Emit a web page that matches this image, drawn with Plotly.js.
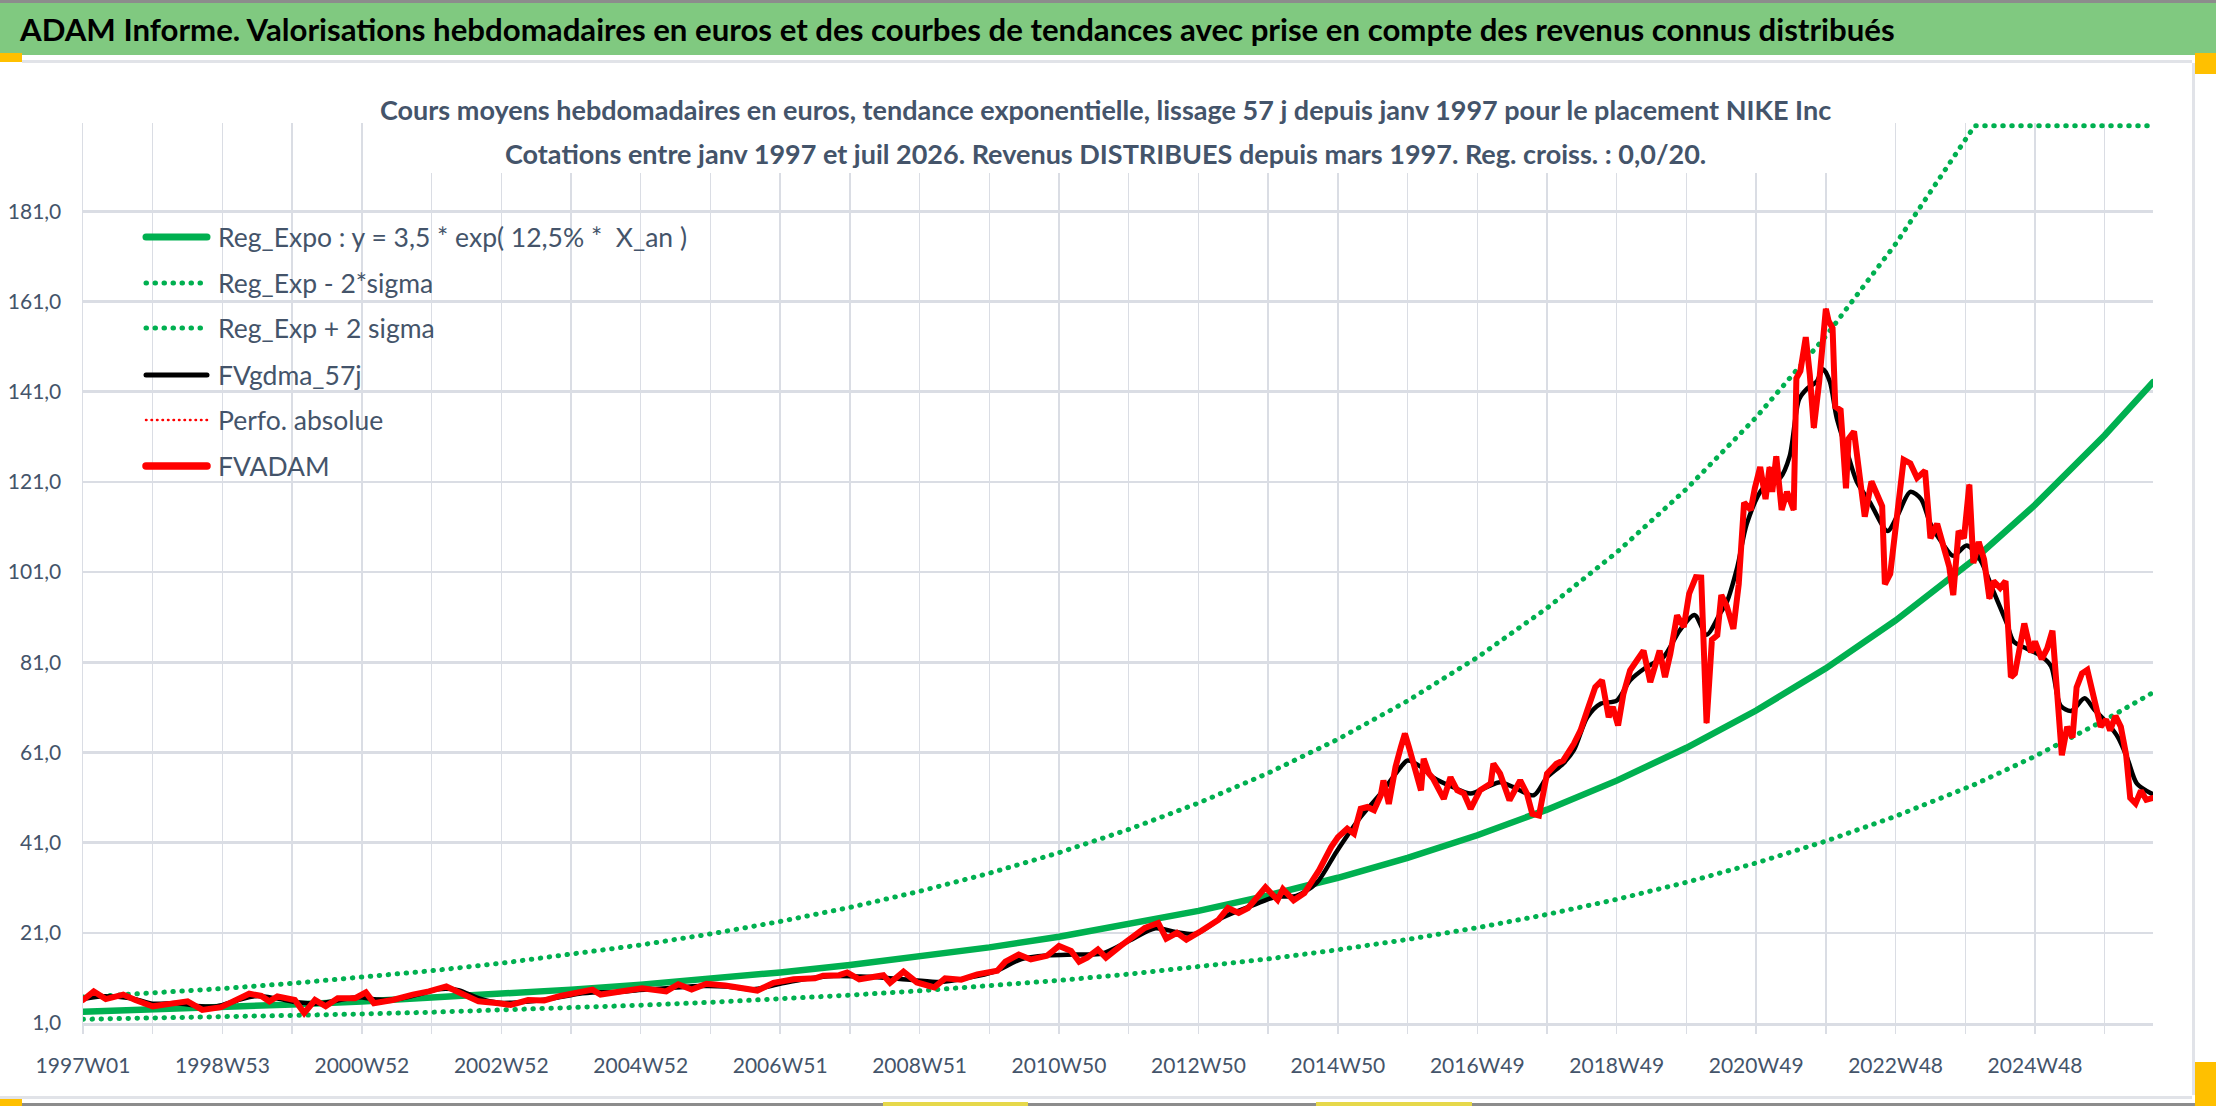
<!DOCTYPE html>
<html>
<head>
<meta charset="utf-8">
<script src="https://cdn.plot.ly/plotly-3.0.1.min.js"></script>
<style>
  html, body { margin: 0; padding: 0; background: #ffffff; }
  #myDiv { width: 2216px; height: 1106px; }
  /* round dots for the dotted trend lines */
  path.js-line, .shapelayer path { stroke-linecap: round; }
</style>
</head>
<body>
<div id="myDiv"></div>
<script>
const config = { displayModeBar: false, staticPlot: true };

// week index counted from 1997W01
var trendWeeks = [0, 52, 104, 156, 208, 260, 312, 364, 416, 468,
                  520, 572, 624, 676, 728, 780, 832, 884, 936, 988,
                  1040, 1092, 1144, 1196, 1248, 1300, 1352, 1404, 1411, 1456,
                  1508, 1544];
var regExpo = [3.50, 3.97, 4.49, 5.09, 5.77, 6.54, 7.41, 8.40, 9.51, 10.78,
               12.22, 13.84, 15.69, 17.77, 20.14, 22.82, 25.86, 29.31, 33.21, 37.63,
               42.64, 48.32, 54.75, 62.04, 70.30, 79.66, 90.27, 102.29, 103.9, 115.90,
               131.34, 143.1];
var regLow = [1.82, 2.06, 2.33, 2.64, 2.99, 3.39, 3.85, 4.36, 4.94, 5.59,
              6.34, 7.18, 8.14, 9.22, 10.45, 11.84, 13.42, 15.21, 17.24, 19.53,
              22.13, 25.08, 28.42, 32.20, 36.49, 41.34, 46.85, 53.09, 53.9, 60.15,
              68.17, 74.3];
var regHigh = [6.74, 7.64, 8.64, 9.80, 11.11, 12.59, 14.26, 16.17, 18.31, 20.75,
               23.52, 26.64, 30.20, 34.21, 38.77, 43.93, 49.78, 56.42, 63.93, 72.44,
               82.08, 93.02, 105.39, 119.43, 135.33, 153.35, 173.77, 196.9, 200, 200,
               200, 200];

var adamWeeks = [0, 8, 17, 30, 39, 52, 66, 78, 89, 103,
                 112, 124, 133, 139, 145, 158, 165, 173, 181, 190,
                 203, 211, 217, 231, 246, 258, 271, 283, 295, 310,
                 319, 332, 344, 356, 368, 380, 386, 399, 417, 435,
                 444, 454, 465, 479, 491, 503, 515, 530, 546, 552,
                 564, 570, 579, 591, 597, 602, 612, 622, 635, 643,
                 655, 667, 682, 688, 698, 707, 719, 728, 737, 743,
                 749, 757, 763, 774, 783, 792, 802, 808, 816, 823,
                 834, 847, 854, 862, 869, 882, 891, 895, 903, 911,
                 922, 926, 931, 936, 943, 948, 953, 958, 963, 968,
                 970, 974, 979, 983, 986, 989, 993, 995, 998, 1000,
                 1004, 1007, 1015, 1020, 1025, 1030, 1035, 1042, 1050, 1052,
                 1057, 1064, 1072, 1077, 1081, 1086, 1092, 1099, 1104, 1112,
                 1117, 1122, 1128, 1133, 1138, 1141, 1145, 1149, 1154, 1159,
                 1164, 1169, 1172, 1176, 1180, 1184, 1189, 1194, 1198, 1203,
                 1207, 1211, 1215, 1219, 1222, 1226, 1231, 1235, 1239, 1244,
                 1247, 1251, 1255, 1258, 1260, 1263, 1267, 1271, 1276, 1278,
                 1281, 1285, 1288, 1291, 1295, 1300, 1302, 1305, 1307, 1311,
                 1315, 1317, 1321, 1326, 1329, 1334, 1338, 1342, 1344, 1348,
                 1353, 1358, 1363, 1368, 1374, 1378, 1383, 1388, 1392, 1395,
                 1399, 1403, 1407, 1410, 1414, 1418, 1422, 1425, 1430, 1434,
                 1438, 1441, 1445, 1448, 1453, 1456, 1461, 1465, 1469, 1471,
                 1474, 1476, 1480, 1484, 1487, 1491, 1495, 1500, 1505, 1509,
                 1512, 1516, 1520, 1524, 1527, 1531, 1535, 1539, 1544];
var fvAdam = [6.1, 8.0, 6.3, 7.3, 6.1, 4.7, 5.3, 5.8, 3.9, 4.5,
              5.8, 7.5, 7.0, 5.8, 6.9, 6.1, 3.2, 6.1, 4.7, 6.5,
              6.5, 7.8, 5.4, 6.1, 7.3, 8.0, 9.1, 7.6, 5.8, 5.4,
              5.0, 6.1, 6.0, 7.0, 7.6, 8.4, 7.3, 8.0, 8.7, 8.0,
              9.6, 8.4, 9.7, 9.3, 8.7, 8.2, 9.9, 10.7, 10.9, 11.5,
              11.6, 12.2, 10.7, 11.5, 11.6, 9.9, 12.4, 10.0, 8.9, 10.9,
              10.6, 11.8, 12.6, 14.6, 16.2, 15.1, 15.9, 18.1, 17.0, 14.6,
              15.5, 17.3, 15.5, 18.1, 20.3, 22.1, 23.2, 19.7, 21.0, 19.5,
              21.4, 23.9, 26.5, 25.4, 26.5, 31.1, 28.3, 30.7, 28.2, 29.8,
              34.9, 37.4, 40.0, 42.2, 44.1, 43.0, 48.5, 48.9, 48.2, 51.5,
              54.8, 49.6, 57.8, 62.2, 65.2, 62.2, 57.8, 56.3, 52.6, 59.6,
              56.3, 55.2, 50.7, 55.5, 52.6, 51.9, 48.5, 52.6, 54.1, 58.5,
              56.3, 50.4, 54.8, 51.9, 47.4, 47.0, 56.3, 58.5, 59.2, 62.9,
              65.9, 70.3, 75.5, 77.0, 68.8, 71.1, 67.0, 74.0, 79.2, 81.4,
              83.6, 76.6, 79.9, 83.6, 77.7, 82.9, 91.4, 88.8, 96.2, 99.9,
              99.8, 67.5, 86.0, 87.0, 95.9, 93.5, 88.4, 98.3, 116.4, 114.8,
              119.6, 124.3, 117.2, 124.3, 118.8, 126.7, 114.8, 118.8, 114.8, 144.0,
              145.6, 153.1, 144.8, 133.0, 143.2, 159.4, 156.7, 155.1, 137.7, 136.9,
              119.6, 130.6, 132.2, 120.4, 113.3, 121.1, 118.0, 115.6, 98.3, 100.6,
              113.3, 125.9, 125.1, 121.9, 123.5, 108.5, 111.7, 106.9, 102.2, 95.9,
              110.1, 108.5, 120.4, 103.0, 107.7, 103.8, 95.1, 99.0, 97.5, 99.0,
              77.7, 78.5, 84.8, 89.6, 83.2, 85.6, 81.7, 84.0, 88.0, 80.1,
              70.6, 60.4, 66.7, 64.3, 75.4, 78.5, 79.3, 73.0, 66.7, 68.3,
              65.9, 69.1, 66.7, 60.4, 50.9, 49.7, 52.5, 50.5, 50.9];

var gdmaWeeks = [0, 13, 26, 39, 52, 70, 85, 100, 115, 130,
                 145, 160, 175, 190, 205, 220, 235, 250, 265, 280,
                 295, 310, 325, 340, 355, 370, 385, 400, 420, 440,
                 460, 480, 500, 520, 540, 560, 580, 600, 620, 640,
                 660, 680, 700, 720, 740, 760, 780, 800, 815, 830,
                 850, 870, 890, 905, 920, 935, 953, 968, 983, 988,
                 998, 1007, 1022, 1035, 1047, 1057, 1067, 1082, 1092, 1104,
                 1112, 1122, 1132, 1144, 1154, 1166, 1179, 1191, 1202, 1211,
                 1221, 1226, 1234, 1241, 1253, 1266, 1273, 1280, 1286, 1293,
                 1298, 1303, 1308, 1316, 1323, 1333, 1346, 1353, 1363, 1371,
                 1378, 1388, 1395, 1405, 1415, 1425, 1435, 1440, 1450, 1460,
                 1468, 1475, 1483, 1493, 1500, 1510, 1518, 1525, 1532, 1544];
var fvGdma = [6.3, 6.9, 6.8, 6.3, 5.3, 5.4, 4.8, 4.7, 6.0, 7.0,
              6.4, 5.6, 5.3, 6.0, 6.7, 6.2, 6.3, 7.3, 8.5, 8.3,
              6.5, 5.5, 5.6, 6.0, 6.7, 7.5, 7.8, 7.9, 8.4, 8.8,
              9.2, 9.1, 8.5, 9.7, 10.8, 11.4, 11.3, 11.0, 10.5, 10.1,
              11.0, 12.4, 15.2, 16.0, 16.2, 16.4, 19.2, 22.0, 21.2, 20.8,
              24.4, 26.8, 29.0, 29.2, 32.0, 39.0, 46.7, 51.9, 57.8, 59.2,
              57.8, 55.5, 53.3, 51.9, 53.3, 54.4, 53.3, 51.5, 55.5, 58.5,
              61.5, 68.8, 71.8, 72.5, 77.0, 79.9, 82.2, 88.1, 91.5, 87.1,
              91.8, 94.3, 102.2, 111.7, 119.6, 121.9, 126.7, 139.3, 141.7, 143.2,
              146.0, 143.2, 135.3, 127.5, 121.1, 116.4, 110.1, 113.3, 118.8, 117.2,
              111.7, 106.9, 104.6, 106.9, 103.8, 96.7, 89.6, 85.6, 84.0, 82.5,
              80.1, 71.4, 70.2, 73.0, 70.6, 67.5, 64.3, 59.6, 54.1, 51.7];

// one label every two years, grid every year
var xTickLabels = ['1997W01', '1998W53', '2000W52', '2002W52', '2004W52', '2006W51',
                   '2008W51', '2010W50', '2012W50', '2014W50', '2016W49', '2018W49',
                   '2020W49', '2022W48', '2024W48'];
var legendNames = ['Reg_Expo : y = 3,5 * exp( 12,5% *  X_an )', 'Reg_Exp - 2*sigma',
                   'Reg_Exp + 2 sigma', 'FVgdma_57j', 'Perfo. absolue', 'FVADAM'];

var headerText = 'ADAM Informe. Valorisations hebdomadaires en euros et des courbes de tendances avec prise en compte des revenus connus distribués';
var titleLines = ['Cours moyens hebdomadaires en euros, tendance exponentielle, lissage 57 j depuis janv 1997 pour le placement NIKE Inc',
                  'Cotations entre janv 1997 et juil 2026. Revenus DISTRIBUES depuis mars 1997. Reg. croiss. : 0,0/20.'];

var FONT = 'Lato, "Open Sans", "DejaVu Sans", sans-serif';
var TXT = '#44546A';
var GRID = '#DADDE4';

// plot area in pixels
var PL = 83, PR = 2153, PT = 123, PB = 1023;
function px(x) { return (x - PL) / (PR - PL); }
function py(y) { return (PB - y) / (PB - PT); }

var gridWeeks = [];
var gridText = [];
for (var k = 0; k * 52 <= 1544; k++) {
    gridWeeks.push(k * 52);
    gridText.push(k % 2 === 0 ? xTickLabels[k / 2] : '');
}

var lines = [
    { color: '#00B050', width: 6.5 },
    { color: '#00B050', width: 5, dash: '0.5px,8.5px' },
    { color: '#00B050', width: 5, dash: '0.5px,8.5px' },
    { color: '#000000', width: 4.5 },
    { color: '#FF0000', width: 2.5, dash: '0.5px,5px' },
    { color: '#FF0000', width: 6 }
];

var data = [
    { type: 'scatter', mode: 'lines', name: legendNames[0], x: trendWeeks, y: regExpo, line: lines[0] },
    { type: 'scatter', mode: 'lines', name: legendNames[1], x: trendWeeks, y: regLow, line: lines[1] },
    { type: 'scatter', mode: 'lines', name: legendNames[2], x: trendWeeks, y: regHigh, line: lines[2] },
    { type: 'scatter', mode: 'lines', name: legendNames[3], x: gdmaWeeks, y: fvGdma,
      line: Object.assign({ shape: 'spline', smoothing: 0.8 }, lines[3]) },
    { type: 'scatter', mode: 'lines', name: legendNames[4], x: adamWeeks, y: fvAdam, line: lines[4] },
    { type: 'scatter', mode: 'lines', name: legendNames[5], x: adamWeeks, y: fvAdam, line: lines[5] }
];

function rect(x0, y0, x1, y1, color) {
    return { type: 'rect', xref: 'paper', yref: 'paper', layer: 'above',
             x0: px(x0), x1: px(x1), y0: py(y0), y1: py(y1),
             fillcolor: color, line: { width: 0 } };
}

var shapes = [
    rect(0, 0, 2216, 3, '#8C8C8C'),
    rect(0, 3, 2216, 55, '#80C980'),
    rect(22, 60, 2192, 63, '#E1E3E8'),
    rect(2192, 63, 2195, 1095, '#E1E3E8'),
    rect(0, 1096, 2192, 1099, '#E1E3E8'),
    rect(0, 1103, 2216, 1106, '#8C8C8C'),
    rect(0, 53, 22, 62, '#FFC000'),
    rect(2195, 53, 2216, 74, '#FFC000'),
    rect(2195, 1062, 2216, 1106, '#FFC000'),
    rect(0, 1099, 22, 1106, '#FFC000'),
    rect(883, 1102, 1028, 1106, '#E6D84A'),
    rect(1316, 1102, 1472, 1106, '#E6D84A'),
    rect(370, 123, 1850, 173, '#FFFFFF')
];

var annotations = [
    { text: headerText, xref: 'paper', yref: 'paper', x: px(17), y: py(29),
      xanchor: 'left', yanchor: 'middle', showarrow: false,
      font: { family: FONT, size: 31.2, color: '#000000', weight: 'bold' } },
    { text: titleLines[0], xref: 'paper', yref: 'paper', x: px(1105), y: py(110),
      xanchor: 'center', yanchor: 'middle', showarrow: false,
      font: { family: FONT, size: 27, color: TXT, weight: 'bold' } },
    { text: titleLines[1], xref: 'paper', yref: 'paper', x: px(1105), y: py(153),
      xanchor: 'center', yanchor: 'middle', showarrow: false,
      font: { family: FONT, size: 27, color: TXT, weight: 'bold' } }
];

// legend drawn by hand so the sample lines are as long as in the original
var legendRows = [237, 283, 328, 375, 420, 466];
var legendWidths = [7, 5, 5, 5, 2.5, 7.5];
legendNames.forEach(function (name, i) {
    shapes.push({ type: 'line', xref: 'paper', yref: 'paper', layer: 'above',
                  x0: px(146), x1: px(207), y0: py(legendRows[i]), y1: py(legendRows[i]),
                  line: { color: lines[i].color, width: legendWidths[i],
                          dash: lines[i].dash || 'solid' } });
    annotations.push({ text: name, xref: 'paper', yref: 'paper', x: px(216), y: py(legendRows[i]),
                       xanchor: 'left', yanchor: 'middle', showarrow: false,
                       font: { family: FONT, size: 26.5, color: TXT } });
});

var layout = {
    width: 2216,
    height: 1106,
    autosize: false,
    margin: { l: PL, r: 2216 - PR, t: PT, b: 1106 - PB, pad: 0 },
    paper_bgcolor: '#ffffff',
    plot_bgcolor: '#ffffff',
    separators: ', ',
    showlegend: false,
    font: { family: FONT, size: 21, color: TXT },
    xaxis: {
        type: 'linear',
        range: [0, 1544],
        tickmode: 'array',
        tickvals: gridWeeks,
        ticktext: gridText,
        showgrid: true,
        gridcolor: GRID,
        gridwidth: 1.5,
        ticks: 'outside',
        ticklen: 8,
        tickwidth: 1.5,
        tickcolor: GRID,
        ticklabelstandoff: 14,
        showline: true,
        linecolor: GRID,
        linewidth: 2.5,
        zeroline: false,
        tickfont: { family: FONT, size: 21, color: TXT }
    },
    yaxis: {
        range: [1, 200.6],
        tick0: 1,
        dtick: 20,
        tickformat: '.1f',
        showgrid: true,
        gridcolor: GRID,
        gridwidth: 2.5,
        ticks: '',
        ticklabelstandoff: 16,
        showline: true,
        linecolor: GRID,
        linewidth: 1.5,
        zeroline: false,
        tickfont: { family: FONT, size: 21, color: TXT }
    },
    shapes: shapes,
    annotations: annotations
};

Plotly.newPlot('myDiv', data, layout, config);
</script>
</body>
</html>
